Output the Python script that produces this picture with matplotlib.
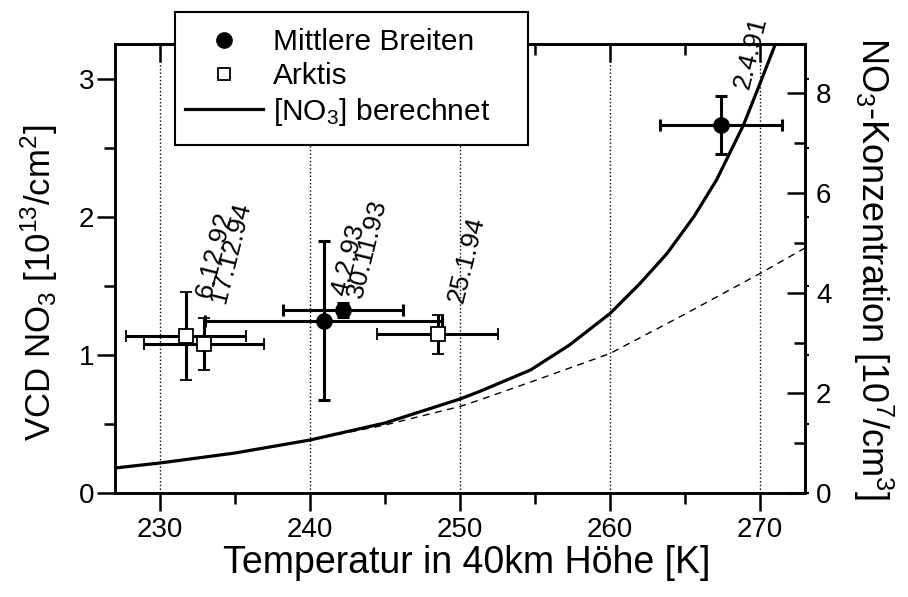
import matplotlib
matplotlib.use("Agg")
import matplotlib.pyplot as plt
import matplotlib.ticker as ticker
from matplotlib.lines import Line2D
from matplotlib.patches import Rectangle

plt.rcParams['font.family'] = ['Liberation Sans', 'DejaVu Sans']
plt.rcParams['mathtext.fontset'] = 'custom'
plt.rcParams['mathtext.rm'] = 'Liberation Sans'
plt.rcParams['mathtext.it'] = 'Liberation Sans:italic'
plt.rcParams['mathtext.bf'] = 'Liberation Sans:bold'

# Mittlere Breiten (filled circles)
mid_T = [240.9, 242.2, 267.4]
mid_vcd = [1.25, 1.325, 2.67]
mid_Terr = [7.9, 4.0, 4.05]
mid_vcderr = [0.575, 0.05, 0.21]

# Arktis (open squares)
ark_T = [231.7, 232.9, 248.5]
ark_vcd = [1.14, 1.08, 1.15]
ark_Terr = [4.0, 4.0, 4.05]
ark_vcderr = [0.32, 0.185, 0.14]

# date labels, anchored at the start of the text
label_txt = ["4.2.93", "30.11.93", "2.4.91", "6.12.92", "17.12.94", "25.1.94"]
label_T = [242.0, 243.0, 268.8, 232.9, 233.9, 249.7]
label_vcd = [1.43, 1.42, 2.93, 1.42, 1.38, 1.38]

# calculated NO3 concentration [1e7/cm3], right axis
calc_T = [227, 230, 235, 240, 245, 250, 251.3, 254.7, 257.3, 260, 262, 263.8,
          265.6, 267.1, 268.9, 270, 271]
calc_conc = [0.50, 0.60, 0.80, 1.06, 1.40, 1.88, 2.03, 2.46, 2.96, 3.59, 4.19, 4.79,
             5.53, 6.26, 7.36, 8.19, 8.96]

calc2_T = [227, 230, 235, 240, 245, 250, 251.3, 255, 260, 264.7, 270, 273]
calc2_conc = [0.50, 0.60, 0.80, 1.06, 1.36, 1.73, 1.86, 2.25, 2.79, 3.53, 4.39, 4.90]

fig = plt.figure(figsize=(9.08, 5.97), dpi=100)
ax = fig.add_axes([115 / 908, 1 - 493 / 597, 690 / 908, 449 / 597])
ax2 = ax.twinx()

ax.set_xlim(227, 273)
ax.set_ylim(0, 3.254)
ax2.set_ylim(0, 8.98)

ax.xaxis.grid(True, which='major', linestyle=':', color='k', linewidth=1.0)

ax2.plot(calc_T, calc_conc, color='k', linewidth=2.3, zorder=3)
ax2.plot(calc2_T, calc2_conc, color='k', linewidth=1.0, linestyle=(0, (5, 4)), zorder=3)

ax.errorbar(mid_T, mid_vcd, xerr=mid_Terr, yerr=mid_vcderr, fmt='o', ms=11,
            mfc='k', mec='k', ecolor='k', elinewidth=2.2, capsize=4.5, capthick=2.2, zorder=4)
ax.errorbar(ark_T, ark_vcd, xerr=ark_Terr, yerr=ark_vcderr, fmt='s', ms=10,
            mfc='white', mec='k', mew=1.3, ecolor='k', elinewidth=2.2, capsize=4.5,
            capthick=2.2, zorder=4)

# main axes above the twin so the points cover the curve
ax.set_zorder(ax2.get_zorder() + 1)
ax.patch.set_visible(False)

for t, v, s in zip(label_T, label_vcd, label_txt):
    ax.text(t, v, s, rotation=76, rotation_mode='anchor', ha='left', va='center',
            fontsize=19, zorder=5)

ax.xaxis.set_major_locator(ticker.MultipleLocator(10))
ax.xaxis.set_minor_locator(ticker.MultipleLocator(5))
ax.yaxis.set_major_locator(ticker.MultipleLocator(1))
ax.yaxis.set_minor_locator(ticker.MultipleLocator(0.5))
ax2.yaxis.set_major_locator(ticker.MultipleLocator(2))
ax2.yaxis.set_minor_locator(ticker.MultipleLocator(1))

ax.tick_params(which='major', direction='out', length=13, width=1.8, labelsize=20, pad=2)
ax.tick_params(which='minor', direction='out', length=8, width=1.8)
ax.tick_params(axis='x', pad=4)
ax.tick_params(axis='y', right=False)
ax2.tick_params(which='major', direction='in', length=13, width=1.8, labelsize=20, pad=8)
ax2.tick_params(which='minor', direction='in', length=8, width=1.8)

top = ax.secondary_xaxis('top')
top.xaxis.set_major_locator(ticker.MultipleLocator(10))
top.xaxis.set_minor_locator(ticker.MultipleLocator(5))
top.tick_params(which='major', direction='in', length=13, width=1.8, labeltop=False)
top.tick_params(which='minor', direction='in', length=8, width=1.8)

# tiny mirrored ticks of the left scale on the outside of the right spine
mirror = ax.secondary_yaxis('right')
mirror.yaxis.set_major_locator(ticker.MultipleLocator(0.5))
mirror.tick_params(direction='out', length=3, width=1.5, labelright=False)

for a in (ax, ax2):
    for sp in a.spines.values():
        sp.set_linewidth(1.8)
top.spines['top'].set_linewidth(1.8)
mirror.spines['right'].set_linewidth(1.8)

ax.set_xlabel("Temperatur in 40km Höhe [K]", fontsize=27)
ax.set_ylabel("VCD NO$_3$ [10$^{13}$/cm$^2$]", fontsize=25)
ax2.set_ylabel("NO$_3$-Konzentration [10$^7$/cm$^3$]", fontsize=26, rotation=-90)
ax.xaxis.set_label_coords(0.51, -0.115)
ax.yaxis.set_label_coords(-0.08, 0.467)
ax2.yaxis.set_label_coords(1.13, 0.5)

# legend box
fig.patches.append(Rectangle((175 / 908, 1 - 145 / 597), 353 / 908, 133 / 597,
                             transform=fig.transFigure, facecolor='white',
                             edgecolor='k', linewidth=1.5, zorder=6))
handles = [
    Line2D([], [], marker='o', linestyle='none', color='k', ms=11),
    Line2D([], [], marker='s', linestyle='none', mfc='white', mec='k', mew=1.3, ms=9),
    Line2D([], [], color='k', linewidth=2.3),
]
fig.legend(handles, ["Mittlere Breiten", "Arktis", "[NO$_3$] berechnet"],
           loc='upper left', bbox_to_anchor=(185 / 908, 1 - 28 / 597),
           frameon=False, fontsize=21.5, handlelength=2.6, handletextpad=0.35,
           labelspacing=0.2, borderpad=0, borderaxespad=0).set_zorder(7)

fig.savefig("out.png", dpi=100)
